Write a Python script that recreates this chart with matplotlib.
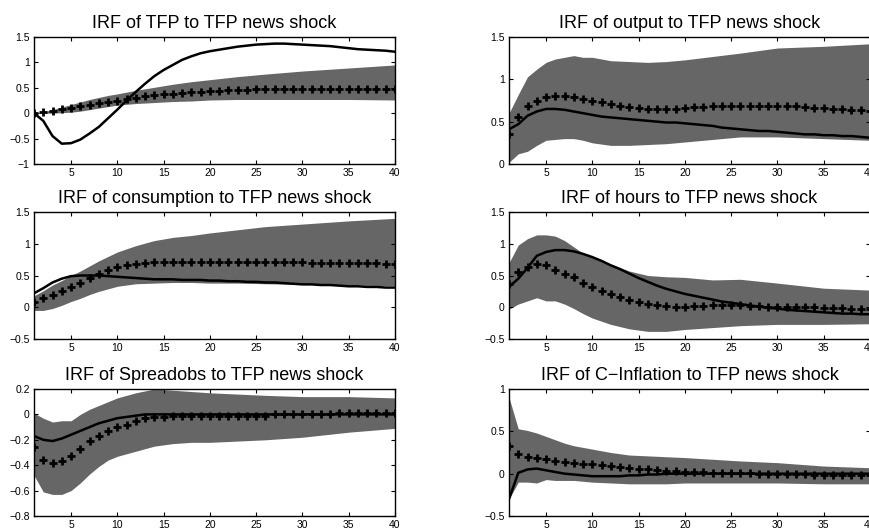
import matplotlib
matplotlib.use('Agg')
import matplotlib.pyplot as plt
import numpy as np

plt.rcParams['font.family'] = ['Liberation Sans', 'DejaVu Sans']

# horizon
horizon = list(range(1, 41))
# x positions at which the band edges were read
band_x = [1, 2, 3, 4, 5, 6, 7, 8, 9, 10, 12, 14, 16, 18, 20, 23, 26, 30, 35, 40]

titles = [
    'IRF of TFP to TFP news shock',
    'IRF of output to TFP news shock',
    'IRF of consumption to TFP news shock',
    'IRF of hours to TFP news shock',
    'IRF of Spreadobs to TFP news shock',
    'IRF of C\u2212Inflation to TFP news shock',
]

# TFP
tfp_line = [0.0, -0.15, -0.45, -0.6, -0.59, -0.52, -0.4, -0.27, -0.1, 0.07,
            0.25, 0.42, 0.58, 0.73, 0.85, 0.95, 1.05, 1.12, 1.18, 1.22,
            1.25, 1.28, 1.31, 1.33, 1.35, 1.36, 1.37, 1.37, 1.36, 1.35,
            1.34, 1.33, 1.32, 1.30, 1.28, 1.26, 1.25, 1.24, 1.23, 1.21]
tfp_plus = [0.0, 0.02, 0.05, 0.08, 0.11, 0.14, 0.17, 0.2, 0.23, 0.25,
            0.28, 0.3, 0.33, 0.35, 0.37, 0.38, 0.4, 0.41, 0.42, 0.43,
            0.44, 0.45, 0.46, 0.46, 0.47, 0.47, 0.47, 0.48, 0.48, 0.48,
            0.48, 0.48, 0.48, 0.48, 0.48, 0.48, 0.48, 0.48, 0.48, 0.48]
tfp_lo = [0.0, 0.0, 0.0, 0.01, 0.02, 0.04, 0.07, 0.1, 0.13, 0.16,
          0.19, 0.21, 0.23, 0.24, 0.26, 0.27, 0.27, 0.27, 0.27, 0.26]
tfp_hi = [0.0, 0.03, 0.07, 0.12, 0.17, 0.22, 0.27, 0.31, 0.35, 0.38,
          0.45, 0.51, 0.57, 0.62, 0.66, 0.72, 0.77, 0.83, 0.89, 0.95]

# output
out_line = [0.41, 0.47, 0.57, 0.62, 0.65, 0.65, 0.64, 0.62, 0.6, 0.58,
            0.56, 0.55, 0.54, 0.53, 0.52, 0.51, 0.5, 0.49, 0.49, 0.48,
            0.47, 0.46, 0.45, 0.43, 0.42, 0.41, 0.4, 0.39, 0.39, 0.38,
            0.37, 0.36, 0.35, 0.35, 0.34, 0.34, 0.33, 0.33, 0.32, 0.31]
out_plus = [0.36, 0.55, 0.68, 0.75, 0.79, 0.8, 0.8, 0.79, 0.77, 0.75,
            0.73, 0.71, 0.69, 0.67, 0.66, 0.65, 0.65, 0.65, 0.65, 0.66,
            0.67, 0.67, 0.68, 0.68, 0.68, 0.68, 0.69, 0.69, 0.69, 0.69,
            0.68, 0.68, 0.67, 0.66, 0.66, 0.65, 0.65, 0.64, 0.64, 0.63]
out_lo = [0.02, 0.12, 0.15, 0.22, 0.28, 0.29, 0.3, 0.3, 0.28, 0.25,
          0.22, 0.22, 0.23, 0.24, 0.26, 0.29, 0.32, 0.32, 0.3, 0.28]
out_hi = [0.6, 0.82, 1.03, 1.12, 1.2, 1.24, 1.26, 1.28, 1.26, 1.26,
          1.22, 1.21, 1.2, 1.21, 1.23, 1.27, 1.31, 1.37, 1.39, 1.42]

# consumption
con_line = [0.22, 0.3, 0.39, 0.45, 0.49, 0.5, 0.5, 0.5, 0.49, 0.48,
            0.47, 0.46, 0.45, 0.44, 0.44, 0.44, 0.43, 0.43, 0.43, 0.42,
            0.42, 0.41, 0.41, 0.4, 0.4, 0.39, 0.39, 0.38, 0.37, 0.36,
            0.36, 0.35, 0.35, 0.34, 0.33, 0.33, 0.32, 0.32, 0.31, 0.31]
con_plus = [0.09, 0.14, 0.19, 0.26, 0.32, 0.38, 0.46, 0.52, 0.58, 0.63,
            0.66, 0.68, 0.7, 0.71, 0.71, 0.72, 0.72, 0.72, 0.72, 0.72,
            0.72, 0.72, 0.72, 0.71, 0.71, 0.71, 0.71, 0.71, 0.71, 0.71,
            0.7, 0.7, 0.7, 0.7, 0.7, 0.69, 0.69, 0.69, 0.68, 0.68]
con_lo = [-0.05, -0.05, -0.02, 0.03, 0.09, 0.14, 0.2, 0.25, 0.29, 0.33,
          0.37, 0.38, 0.39, 0.39, 0.38, 0.38, 0.37, 0.36, 0.35, 0.34]
con_hi = [0.18, 0.26, 0.35, 0.42, 0.5, 0.57, 0.65, 0.73, 0.8, 0.87,
          0.97, 1.05, 1.1, 1.13, 1.17, 1.22, 1.27, 1.31, 1.36, 1.4]

# hours
hrs_line = [0.32, 0.45, 0.62, 0.81, 0.87, 0.9, 0.9, 0.88, 0.84, 0.79,
            0.73, 0.66, 0.6, 0.53, 0.46, 0.4, 0.34, 0.29, 0.25, 0.21,
            0.18, 0.15, 0.12, 0.09, 0.07, 0.05, 0.03, 0.01, -0.01, -0.02,
            -0.04, -0.05, -0.06, -0.07, -0.08, -0.09, -0.1, -0.1, -0.11, -0.11]
hrs_plus = [0.37, 0.55, 0.64, 0.68, 0.66, 0.58, 0.53, 0.47, 0.38, 0.32,
            0.26, 0.21, 0.16, 0.12, 0.08, 0.05, 0.03, 0.02, 0.01, 0.01,
            0.02, 0.02, 0.03, 0.03, 0.03, 0.03, 0.02, 0.02, 0.01, 0.01,
            0.01, 0.0, 0.0, 0.0, -0.01, -0.01, -0.01, -0.02, -0.02, -0.02]
hrs_lo = [-0.03, 0.05, 0.1, 0.15, 0.1, 0.1, 0.05, -0.02, -0.1, -0.17,
          -0.27, -0.34, -0.38, -0.38, -0.35, -0.32, -0.29, -0.27, -0.27, -0.26]
hrs_hi = [0.7, 0.98, 1.08, 1.14, 1.14, 1.12, 1.05, 0.95, 0.85, 0.78,
          0.68, 0.57, 0.5, 0.48, 0.47, 0.43, 0.44, 0.38, 0.3, 0.27]

# spread
spr_line = [-0.17, -0.2, -0.21, -0.19, -0.16, -0.13, -0.1, -0.07, -0.05, -0.03,
            -0.02, -0.01, 0.0, 0.0, 0.0, 0.0, 0.0, 0.0, 0.0, 0.0,
            0.0, 0.0, 0.0, 0.0, 0.0, 0.0, 0.0, 0.0, 0.0, 0.0,
            0.0, 0.0, 0.0, 0.0, 0.0, 0.0, 0.0, 0.0, 0.0, 0.0]
spr_plus = [-0.26, -0.36, -0.38, -0.37, -0.33, -0.27, -0.21, -0.17, -0.13, -0.1,
            -0.08, -0.05, -0.03, -0.02, -0.02, -0.01, -0.01, -0.01, -0.01, -0.01,
            -0.01, -0.01, -0.01, -0.01, -0.01, -0.01, 0.0, 0.0, 0.0, 0.0,
            0.0, 0.0, 0.0, 0.01, 0.01, 0.01, 0.01, 0.01, 0.01, 0.01]
spr_lo = [-0.48, -0.61, -0.63, -0.63, -0.6, -0.54, -0.47, -0.41, -0.36, -0.33,
          -0.29, -0.25, -0.23, -0.22, -0.22, -0.21, -0.2, -0.18, -0.14, -0.11]
spr_hi = [0.01, -0.03, -0.06, -0.05, -0.05, 0.0, 0.04, 0.07, 0.1, 0.13,
          0.17, 0.2, 0.19, 0.18, 0.17, 0.16, 0.15, 0.14, 0.14, 0.13]

# C-inflation
inf_line = [-0.3, 0.01, 0.05, 0.06, 0.04, 0.02, 0.0, -0.01, -0.02, -0.03,
            -0.03, -0.03, -0.03, -0.02, -0.02, -0.01, -0.01, 0.0, 0.0, 0.0,
            0.0, 0.0, 0.0, 0.0, 0.0, 0.0, 0.0, 0.0, 0.0, 0.0,
            0.0, 0.0, 0.0, 0.0, 0.0, 0.0, 0.0, 0.0, 0.0, 0.0]
inf_plus = [0.33, 0.23, 0.2, 0.18, 0.17, 0.15, 0.14, 0.13, 0.12, 0.11,
            0.1, 0.09, 0.08, 0.07, 0.06, 0.05, 0.04, 0.03, 0.03, 0.02,
            0.02, 0.02, 0.01, 0.01, 0.01, 0.01, 0.01, 0.0, 0.0, 0.0,
            0.0, 0.0, 0.0, -0.01, -0.01, -0.01, -0.01, -0.02, -0.02, -0.02]
inf_lo = [-0.3, -0.1, -0.1, -0.11, -0.07, -0.08, -0.08, -0.08, -0.09, -0.1,
          -0.11, -0.12, -0.12, -0.12, -0.11, -0.11, -0.11, -0.11, -0.12, -0.12]
inf_hi = [0.9, 0.53, 0.51, 0.48, 0.44, 0.4, 0.36, 0.33, 0.31, 0.29,
          0.25, 0.22, 0.21, 0.2, 0.19, 0.17, 0.15, 0.13, 0.09, 0.07]

panels = [
    (tfp_line, tfp_plus, tfp_lo, tfp_hi, (-1, 1.5), [-1, -0.5, 0, 0.5, 1, 1.5]),
    (out_line, out_plus, out_lo, out_hi, (0, 1.5), [0, 0.5, 1, 1.5]),
    (con_line, con_plus, con_lo, con_hi, (-0.5, 1.5), [-0.5, 0, 0.5, 1, 1.5]),
    (hrs_line, hrs_plus, hrs_lo, hrs_hi, (-0.5, 1.5), [-0.5, 0, 0.5, 1, 1.5]),
    (spr_line, spr_plus, spr_lo, spr_hi, (-0.8, 0.2), [-0.8, -0.6, -0.4, -0.2, 0, 0.2]),
    (inf_line, inf_plus, inf_lo, inf_hi, (-0.5, 1), [-0.5, 0, 0.5, 1]),
]

fig = plt.figure(figsize=(8.69, 5.29), dpi=100)
W, H = 869, 529
lefts = [34, 509]
tops = [37, 212, 389]
aw, ah = 361, 127

def fmt(v):
    s = ('%g' % v)
    return s.replace('-', '\u2212')

for i, (line, plus, lo, hi, ylim, yticks) in enumerate(panels):
    r, c = divmod(i, 2)
    ax = fig.add_axes([lefts[c] / W, 1 - (tops[r] + ah) / H, aw / W, ah / H])
    ax.fill_between(band_x, lo, hi, color='#666666', linewidth=0)
    ax.plot(horizon, line, color='black', linewidth=1.8)
    ax.plot(horizon, plus, linestyle='none', marker='+', color='black',
            markersize=6, markeredgewidth=2)
    ax.set_xlim(1, 40)
    ax.set_ylim(*ylim)
    ax.set_xticks([5, 10, 15, 20, 25, 30, 35, 40])
    ax.set_yticks(yticks)
    ax.set_yticklabels([fmt(v) for v in yticks])
    ax.tick_params(direction='in', length=3, width=0.8, labelsize=7.5,
                   top=True, right=True, pad=3)
    for sp in ax.spines.values():
        sp.set_linewidth(1.0)
    ax.set_title(titles[i], fontsize=13, pad=6.5)

fig.savefig('out.png', dpi=100)
